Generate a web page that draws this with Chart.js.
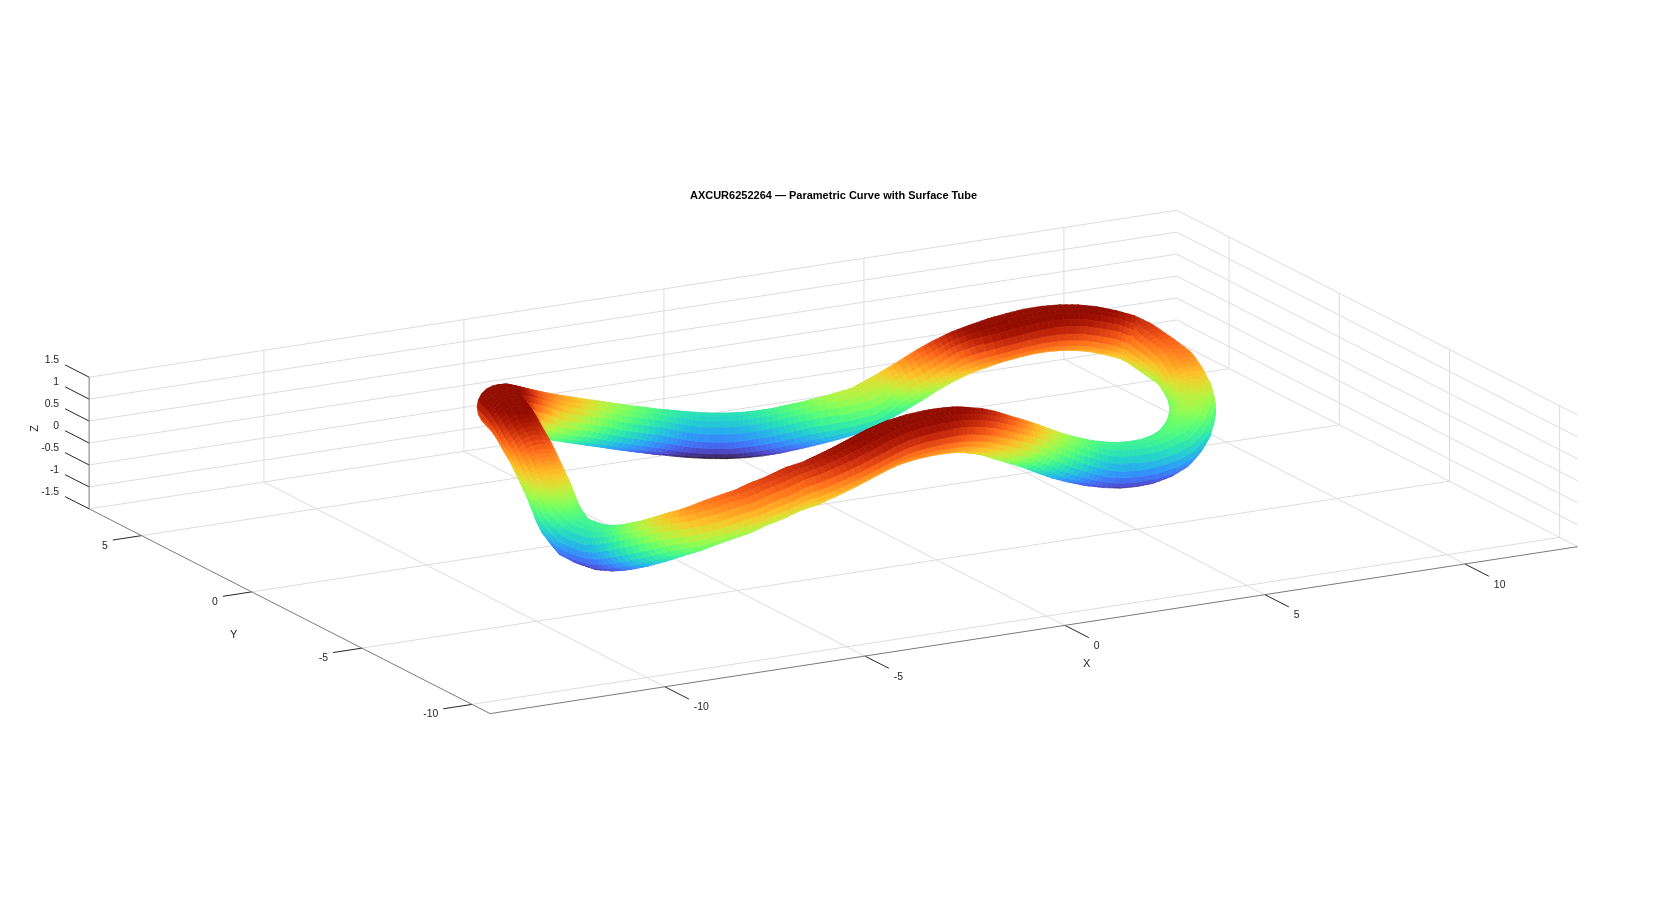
<!DOCTYPE html>
<html>
<head>
<meta charset="utf-8">
<title>AXCUR6252264</title>
<script src="https://cdn.jsdelivr.net/npm/chart.js@4"></script>
<style>
  html, body { margin: 0; padding: 0; background: #fff; }
  canvas { display: block; }
</style>
</head>
<body>
<canvas id="tubeChart" width="1677" height="902"></canvas>
<script>
// axis ranges and ticks
const xLim = [-14.37, 12.82];
const yLim = [-10.82, 7.38];
const zLim = [-1.5, 1.5];
const xTicks = [-10, -5, 0, 5, 10];
const yTicks = [-10, -5, 0, 5];
const zTicks = [-1.5, -1, -0.5, 0, 0.5, 1, 1.5];
const zTickLabels = ['-1.5', '-1', '-0.5', '0', '0.5', '1', '1.5'];

const chartTitle = 'AXCUR6252264 \u2014 Parametric Curve with Surface Tube';

// tube centre line
const curveX = [-7.03, -6.71, -6.29, -5.81, -5.34, -4.94, -4.54, -3.99, -3.42, -2.95, -2.47, -1.98, -1.52, -1.10, -0.74, -0.42, -0.10, 0.20, 0.47, 0.72, 0.97, 1.23, 1.46, 1.79, 2.22, 2.73, 3.11, 3.43, 3.80, 4.15, 4.50, 4.79, 5.14, 5.59, 6.04, 6.46, 6.86, 7.26, 7.62, 7.98, 8.36, 8.54, 8.61, 8.72, 8.78, 8.69, 8.70, 8.57, 8.45, 8.05, 7.80, 7.46, 7.06, 6.68, 6.38, 6.04, 5.72, 5.40, 4.94, 4.45, 4.00, 3.51, 2.99, 2.55, 2.22, 1.87, 1.51, 1.19, 0.76, 0.36, -0.12, -0.58, -1.14, -1.71, -2.25, -2.74, -3.21, -3.62, -4.13, -4.59, -5.09, -5.51, -5.92, -6.31, -6.54, -6.70, -6.83, -6.86, -6.93, -7.03, -7.17, -7.28, -7.34, -7.37, -7.39, -7.38, -7.40, -7.36, -7.35, -7.32, -7.29, -7.27, -7.21, -7.16, -7.11];
const curveY = [2.06, 2.40, 2.78, 3.20, 3.53, 3.72, 3.82, 4.07, 4.33, 4.45, 4.56, 4.70, 4.77, 4.79, 4.67, 4.51, 4.33, 4.12, 3.85, 3.55, 3.24, 2.96, 2.63, 2.48, 2.49, 2.65, 2.60, 2.42, 2.32, 2.22, 2.07, 1.86, 1.73, 1.79, 1.84, 1.85, 1.83, 1.81, 1.70, 1.59, 1.53, 1.33, 1.01, 0.61, 0.10, -0.42, -0.68, -1.05, -1.28, -1.82, -1.99, -2.25, -2.41, -2.42, -2.37, -2.31, -2.20, -2.18, -2.25, -2.39, -2.54, -2.75, -3.06, -3.26, -3.34, -3.45, -3.56, -3.64, -3.80, -3.93, -4.02, -4.11, -4.36, -4.64, -4.86, -5.00, -5.10, -5.09, -5.25, -5.34, -5.49, -5.49, -5.48, -5.44, -5.09, -4.64, -4.12, -3.42, -2.92, -2.50, -2.00, -1.75, -1.55, -1.38, -1.20, -1.00, -0.90, -0.72, -0.45, -0.15, 0.20, 0.55, 0.95, 1.35, 1.72];
const curveZ = [1.15, 1.03, 0.83, 0.60, 0.39, 0.23, 0.10, -0.10, -0.30, -0.45, -0.60, -0.75, -0.88, -0.98, -1.03, -1.05, -1.05, -1.02, -0.95, -0.85, -0.72, -0.60, -0.45, -0.35, -0.30, -0.20, -0.03, 0.20, 0.42, 0.60, 0.78, 0.93, 1.05, 1.08, 1.10, 1.10, 1.08, 1.03, 0.97, 0.87, 0.73, 0.63, 0.55, 0.43, 0.32, 0.20, 0, -0.15, -0.30, -0.45, -0.60, -0.70, -0.78, -0.85, -0.88, -0.88, -0.85, -0.78, -0.62, -0.42, -0.20, 0.05, 0.30, 0.50, 0.65, 0.78, 0.88, 0.95, 1.02, 1.06, 1.06, 1.03, 1.00, 0.95, 0.88, 0.80, 0.72, 0.65, 0.58, 0.52, 0.45, 0.38, 0.30, 0.20, 0.03, -0.18, -0.40, -0.65, -0.80, -0.87, -0.85, -0.79, -0.64, -0.53, -0.36, -0.17, -0.04, 0.06, 0.26, 0.44, 0.65, 0.82, 0.98, 1.10, 1.15];
const tubeRadius = 0.5;
const tubeSides = 20;
const facesPerStep = 3; // mesh density along the tube

// orthographic view of the 3D box on the flat chart plane
function project(x, y, z) {
  return {
    x: 826.5 + 40 * x - 22.03 * y,
    y: 437.8 - 6.14 * x - 11.25 * y - 43.9 * z
  };
}
// bigger = further from the viewer
function depth(x, y, z) {
  return 22.03 * x + 40 * y - 13.33 * z;
}

function turbo(t) {
  t = Math.min(1, Math.max(0, t));
  const r = 0.13572138 + t * (4.6153926 + t * (-42.66032258 + t * (132.13108234 + t * (-152.94239396 + t * 59.28637943))));
  const g = 0.09140261 + t * (2.19418839 + t * (4.84296658 + t * (-14.18503333 + t * (4.27729857 + t * 2.82956604))));
  const b = 0.1066733 + t * (12.64194608 + t * (-60.58204836 + t * (110.36276771 + t * (-89.90310912 + t * 27.34824973))));
  const c = v => Math.round(255 * Math.min(1, Math.max(0, v)));
  return `rgb(${c(r)},${c(g)},${c(b)})`;
}

function lineSet(a, b, color, width) {
  return {
    data: [project(a[0], a[1], a[2]), project(b[0], b[1], b[2])],
    showLine: true, fill: false, borderColor: color, borderWidth: width, pointRadius: 0
  };
}

// grid on the floor and the two back walls
const gridColor = '#dcdcdc';
const gridSets = [];
zTicks.forEach(z => {
  gridSets.push(lineSet([xLim[0], yLim[1], z], [xLim[1], yLim[1], z], gridColor, 1));
  gridSets.push(lineSet([xLim[1], yLim[1], z], [xLim[1], yLim[0], z], gridColor, 1));
});
xTicks.forEach(x => {
  gridSets.push(lineSet([x, yLim[0], zLim[0]], [x, yLim[1], zLim[0]], gridColor, 1));
  gridSets.push(lineSet([x, yLim[1], zLim[0]], [x, yLim[1], zLim[1]], gridColor, 1));
});
yTicks.forEach(y => {
  gridSets.push(lineSet([xLim[0], y, zLim[0]], [xLim[1], y, zLim[0]], gridColor, 1));
  gridSets.push(lineSet([xLim[1], y, zLim[0]], [xLim[1], y, zLim[1]], gridColor, 1));
});

// axis lines and tick marks
const axisColor = '#7a7a7a';
const tickColor = '#262626';
const axisSets = [
  lineSet([xLim[0], yLim[0], zLim[0]], [xLim[1], yLim[0], zLim[0]], axisColor, 1),
  lineSet([xLim[0], yLim[0], zLim[0]], [xLim[0], yLim[1], zLim[0]], axisColor, 1),
  lineSet([xLim[0], yLim[1], zLim[0]], [xLim[0], yLim[1], zLim[1]], axisColor, 1)
];
xTicks.forEach(x => axisSets.push(lineSet([x, yLim[0], zLim[0]], [x, yLim[0] - 1.09, zLim[0]], tickColor, 1)));
yTicks.forEach(y => axisSets.push(lineSet([xLim[0], y, zLim[0]], [xLim[0] - 0.72, y, zLim[0]], tickColor, 1)));
zTicks.forEach(z => axisSets.push(lineSet([xLim[0], yLim[1], z], [xLim[0], yLim[1] + 1.09, z], tickColor, 1)));

// tube surface: a ring of vertices around every centre line point
const count = curveX.length;
const rings = [];
for (let i = 0; i < count; i++) {
  const p = (i + count - 1) % count, n = (i + 1) % count;
  let tx = curveX[n] - curveX[p], ty = curveY[n] - curveY[p], tz = curveZ[n] - curveZ[p];
  const tl = Math.hypot(tx, ty, tz);
  tx /= tl; ty /= tl; tz /= tl;
  const hl = Math.hypot(tx, ty);
  const ax = -ty / hl, ay = tx / hl;
  const bx = -tz * ay, by = tz * ax, bz = tx * ay - ty * ax;
  const ring = [];
  for (let j = 0; j < tubeSides; j++) {
    const th = 2 * Math.PI * j / tubeSides;
    const c = Math.cos(th) * tubeRadius, s = Math.sin(th) * tubeRadius;
    ring.push([curveX[i] + c * ax + s * bx, curveY[i] + c * ay + s * by, curveZ[i] + s * bz]);
  }
  rings.push(ring);
}

// vertex on the mesh between ring i and ring i+1
function meshVertex(i, f, j) {
  const a = rings[i][j], b = rings[(i + 1) % count][j];
  return [a[0] + (b[0] - a[0]) * f, a[1] + (b[1] - a[1]) * f, a[2] + (b[2] - a[2]) * f];
}

const faces = [];
for (let i = 0; i < count; i++) {
  for (let m = 0; m < facesPerStep; m++) {
    const f0 = m / facesPerStep, f1 = (m + 1) / facesPerStep;
    for (let j = 0; j < tubeSides; j++) {
      const k = (j + 1) % tubeSides;
      const v = [meshVertex(i, f0, j), meshVertex(i, f1, j), meshVertex(i, f1, k), meshVertex(i, f0, k)];
      const s = v.map(q => project(q[0], q[1], q[2]));
      // only faces turned to the viewer
      const area = (s[2].x - s[0].x) * (s[3].y - s[1].y) - (s[2].y - s[0].y) * (s[3].x - s[1].x);
      if (area <= 0) continue;
      const mid = [0, 1, 2].map(d => (v[0][d] + v[1][d] + v[2][d] + v[3][d]) / 4);
      faces.push({ pts: [s[0], s[1], s[2], s[3], s[0]], d: depth(mid[0], mid[1], mid[2]), z: mid[2] });
    }
  }
}
// chart.js paints the first dataset last, so nearest face goes first
faces.sort((a, b) => a.d - b.d);
const tubeSets = faces.map(f => {
  const col = turbo((f.z - zLim[0]) / (zLim[1] - zLim[0]));
  return {
    data: f.pts, showLine: true, fill: 'shape', tension: 0,
    backgroundColor: col, borderColor: col, borderWidth: 0.7, pointRadius: 0
  };
});

// tick and axis labels, written next to the projected axis positions
const axisText = {
  id: 'axisText',
  afterDraw(chart) {
    const { ctx, scales } = chart;
    const put = (text, x, y, z, dx, dy, align, rot) => {
      const q = project(x, y, z);
      const px = scales.x.getPixelForValue(q.x) + dx;
      const py = scales.y.getPixelForValue(q.y) + dy;
      ctx.save();
      ctx.translate(px, py);
      if (rot) ctx.rotate(rot);
      ctx.textAlign = align;
      ctx.textBaseline = 'middle';
      ctx.fillText(text, 0, 0);
      ctx.restore();
    };
    ctx.save();
    ctx.fillStyle = '#262626';
    ctx.font = '10.4px "Liberation Sans"';
    xTicks.forEach(v => put(String(v), v, yLim[0], zLim[0], 29, 20.7, 'left'));
    yTicks.forEach(v => put(String(v), xLim[0], v, zLim[0], -33.8, 10.2, 'right'));
    zTicks.forEach((v, i) => put(zTickLabels[i], xLim[0], yLim[1], v, -30, -17, 'right'));
    ctx.font = '11px "Liberation Sans"';
    put('X', 0, yLim[0], zLim[0], 21.8, 39, 'center');
    put('Y', xLim[0], 0, zLim[0], -18, 43, 'center');
    put('Z', xLim[0], yLim[1], 0, -54, -14.6, 'center', -Math.PI / 2);
    ctx.restore();
  }
};

new Chart(document.getElementById('tubeChart').getContext('2d'), {
  type: 'scatter',
  data: { datasets: tubeSets.concat(axisSets, gridSets) },
  plugins: [axisText],
  options: {
    responsive: false,
    animation: false,
    events: [],
    layout: { padding: { left: 0, right: 10, top: 0, bottom: 152 } },
    plugins: {
      legend: { display: false },
      tooltip: { enabled: false },
      title: {
        display: true,
        text: chartTitle,
        color: '#000',
        font: { family: '"Liberation Sans"', size: 11, weight: 'bold', lineHeight: 1.1818 },
        padding: { top: 189, bottom: 4 }
      }
    },
    scales: {
      x: { type: 'linear', display: false, min: 0, max: 1667 },
      y: { type: 'linear', display: false, min: 206, max: 750, reverse: true }
    }
  }
});
</script>
</body>
</html>
